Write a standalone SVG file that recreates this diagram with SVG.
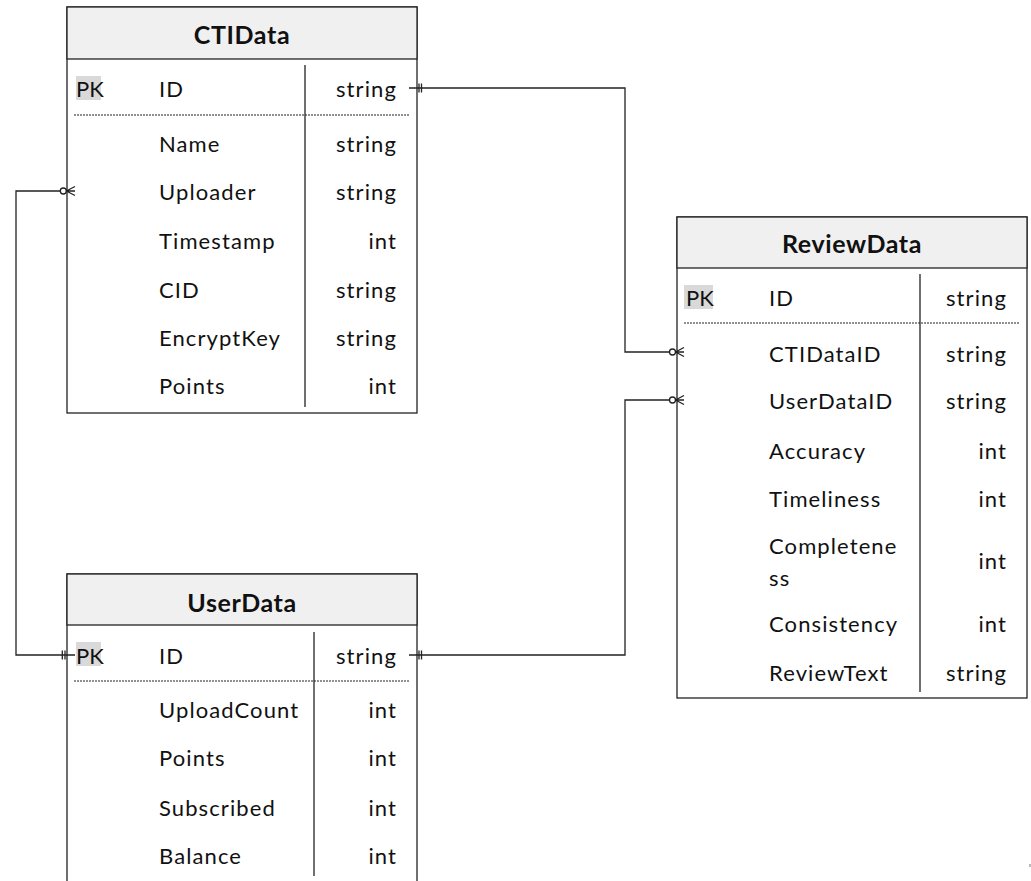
<svg xmlns="http://www.w3.org/2000/svg" width="1031" height="881" viewBox="0 0 1031 881">
  <style>
    .box { fill: #ffffff; stroke: #222222; stroke-width: 1.3; }
    .head { fill: #f0f0f0; stroke: #222222; stroke-width: 1.3; }
    .title { font-family: Lato, "Liberation Sans", sans-serif; font-weight: bold; font-size: 25px; letter-spacing: 0.6px; fill: #111111; text-anchor: middle; dominant-baseline: central; }
    .txt { font-family: Lato, "Liberation Sans", sans-serif; font-size: 22px; fill: #111111; dominant-baseline: central; letter-spacing: 1.1px; }
    .pk { letter-spacing: 0; }
    .type { text-anchor: end; }
    .pkbg { fill: #d9d9d9; }
    .div { stroke: #222222; stroke-width: 1.3; }
    .dash { stroke: #222222; stroke-width: 1; stroke-dasharray: 2 1; }
    .wire { fill: none; stroke: #222222; stroke-width: 1.3; }
    .mark { fill: #ffffff; stroke: #222222; stroke-width: 1.3; }
  </style>

  <!-- CTIData table -->
  <g id="cti-data">
    <rect class="box" x="67" y="7" width="350" height="406"/>
    <rect class="head" x="67" y="7" width="350" height="52"/>
    <text class="title" x="242" y="34">CTIData</text>
    <rect class="pkbg" x="76" y="76" width="25" height="24"/>
    <line class="div" x1="305" y1="65" x2="305" y2="407"/>
    <line class="dash" x1="74" y1="115" x2="410" y2="115"/>
    <text class="txt pk" x="76" y="88">PK</text>
    <text class="txt" x="159" y="88">ID</text>
    <text class="txt type" x="397" y="88">string</text>
    <text class="txt" x="159" y="143">Name</text>
    <text class="txt type" x="397" y="143">string</text>
    <text class="txt" x="159" y="191">Uploader</text>
    <text class="txt type" x="397" y="191">string</text>
    <text class="txt" x="159" y="240">Timestamp</text>
    <text class="txt type" x="397" y="240">int</text>
    <text class="txt" x="159" y="289">CID</text>
    <text class="txt type" x="397" y="289">string</text>
    <text class="txt" x="159" y="337">EncryptKey</text>
    <text class="txt type" x="397" y="337">string</text>
    <text class="txt" x="159" y="385">Points</text>
    <text class="txt type" x="397" y="385">int</text>
  </g>

  <!-- ReviewData table -->
  <g id="review-data">
    <rect class="box" x="677" y="217" width="350" height="481"/>
    <rect class="head" x="677" y="217" width="350" height="51"/>
    <text class="title" x="852" y="243">ReviewData</text>
    <rect class="pkbg" x="684" y="285" width="29" height="24"/>
    <line class="div" x1="920" y1="274" x2="920" y2="692"/>
    <line class="dash" x1="684" y1="323" x2="1020" y2="323"/>
    <text class="txt pk" x="686" y="297">PK</text>
    <text class="txt" x="769" y="297">ID</text>
    <text class="txt type" x="1007" y="297">string</text>
    <text class="txt" x="769" y="353">CTIDataID</text>
    <text class="txt type" x="1007" y="353">string</text>
    <text class="txt" x="769" y="400">UserDataID</text>
    <text class="txt type" x="1007" y="400">string</text>
    <text class="txt" x="769" y="450">Accuracy</text>
    <text class="txt type" x="1007" y="450">int</text>
    <text class="txt" x="769" y="498">Timeliness</text>
    <text class="txt type" x="1007" y="498">int</text>
    <text class="txt" x="769" y="545">Completene</text>
    <text class="txt" x="769" y="577">ss</text>
    <text class="txt type" x="1007" y="560">int</text>
    <text class="txt" x="769" y="623">Consistency</text>
    <text class="txt type" x="1007" y="623">int</text>
    <text class="txt" x="769" y="672">ReviewText</text>
    <text class="txt type" x="1007" y="672">string</text>
  </g>

  <!-- UserData table (runs past the bottom edge) -->
  <g id="user-data">
    <rect class="box" x="67" y="574" width="350" height="330"/>
    <rect class="head" x="67" y="574" width="350" height="51"/>
    <text class="title" x="242" y="602">UserData</text>
    <rect class="pkbg" x="76" y="642" width="25" height="24"/>
    <line class="div" x1="314" y1="632" x2="314" y2="876"/>
    <line class="dash" x1="74" y1="681" x2="410" y2="681"/>
    <text class="txt pk" x="76" y="655">PK</text>
    <text class="txt" x="159" y="655">ID</text>
    <text class="txt type" x="397" y="655">string</text>
    <text class="txt" x="159" y="709">UploadCount</text>
    <text class="txt type" x="397" y="709">int</text>
    <text class="txt" x="159" y="757">Points</text>
    <text class="txt type" x="397" y="757">int</text>
    <text class="txt" x="159" y="807">Subscribed</text>
    <text class="txt type" x="397" y="807">int</text>
    <text class="txt" x="159" y="855">Balance</text>
    <text class="txt type" x="397" y="855">int</text>
  </g>

  <!-- relationship lines, drawn over the table borders -->
  <g id="connectors">
    <!-- CTIData.ID to ReviewData.CTIDataID -->
    <path class="wire" d="M409,88 H625 V352 H669.5"/>
    <path class="wire" d="M419,83.5 V92.5 M421.5,83.5 V92.5"/>
    <circle class="mark" cx="672.5" cy="352" r="3"/>
    <path class="wire" d="M675.5,352 L684,347.5 M675.5,352 L684,356.5 M675.5,352 H684"/>

    <!-- UserData.ID to ReviewData.UserDataID -->
    <path class="wire" d="M409,655 H625 V400 H669.5"/>
    <path class="wire" d="M419,650.5 V659.5 M421.5,650.5 V659.5"/>
    <circle class="mark" cx="672.5" cy="400" r="3"/>
    <path class="wire" d="M675.5,400 L684,395.5 M675.5,400 L684,404.5 M675.5,400 H684"/>

    <!-- UserData.ID to CTIData.Uploader -->
    <path class="wire" d="M60.3,191 H16 V655 H75"/>
    <path class="wire" d="M62.3,650.5 V659.5 M65,650.5 V659.5"/>
    <circle class="mark" cx="63.3" cy="191" r="3"/>
    <path class="wire" d="M66.3,191 L75,186.5 M66.3,191 L75,195.5 M66.3,191 H75"/>
  </g>

  <rect x="1029.5" y="864" width="1" height="3" fill="#777777"/>
</svg>
